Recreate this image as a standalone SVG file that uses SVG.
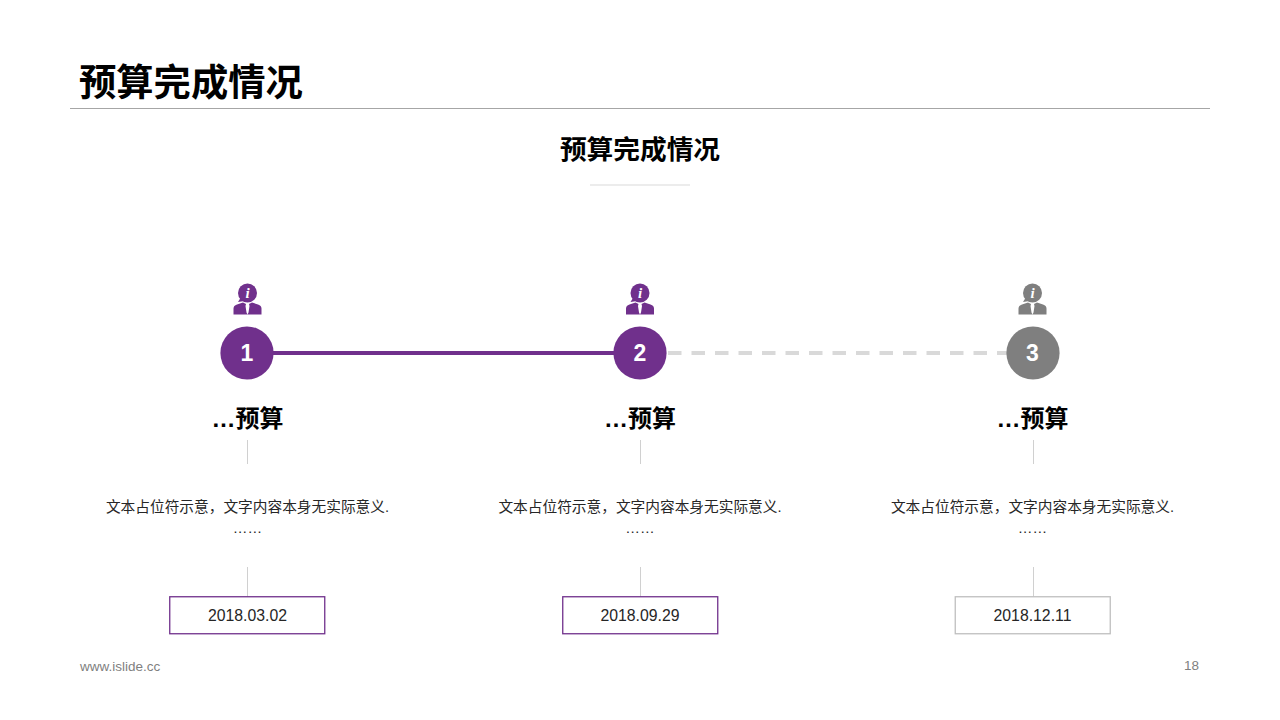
<svg xmlns="http://www.w3.org/2000/svg" xmlns:xlink="http://www.w3.org/1999/xlink" width="1280" height="720" viewBox="0 0 1280 720">
<style>
text{font-family:"Liberation Sans","Noto Sans CJK SC",sans-serif;text-anchor:middle}
.title{font-size:37.300px;font-weight:700;fill:#000;text-anchor:start}
.sub{font-size:26.700px;font-weight:700;fill:#000}
.head{font-size:24px;font-weight:700;fill:#000}
.num{font-size:23px;font-weight:700;fill:#fff}
.body{font-size:14.700px;fill:#262626}
.date{font-size:15.800px;fill:#262626}
.foot{font-size:13.500px;fill:#7f7f7f}
.v{stroke:#d0d0d0;stroke-width:1;fill:none}
.box{fill:#fff;stroke-width:1.300}
.iw{font-family:"Liberation Serif",serif;font-size:15px;font-weight:700;font-style:italic;fill:#fff}
</style>
<defs>
<g id="person">
<circle cx="0" cy="0" r="9.500"/>
<path d="M-7 5 L-9.500 9 L-3 8 Z"/>
<path d="M-14 21.500 L-14 15.500 Q-14 12.500 -10.500 11.500 L-4.500 9.500 L-1.500 11 L-2 13 L-1 19.500 L0 21.500 L1 19.500 L2 13 L1.500 11 L4.500 9.500 L10.500 11.500 Q14 12.500 14 15.500 L14 21.500 Z"/>
</g>
</defs>
<rect width="1280" height="720" fill="#fff"/>
<g id="header">
<text class="title" x="79" y="96">预算完成情况</text>
<line x1="70" y1="108.500" x2="1210" y2="108.500" stroke="#a6a6a6" stroke-width="1"/>
<text class="sub" x="640" y="158.500">预算完成情况</text>
<line x1="590" y1="185" x2="690" y2="185" stroke="#d9d9d9" stroke-width="1"/>
</g>
<g id="connectors">
<line x1="247" y1="353" x2="640" y2="353" stroke="#70308c" stroke-width="4"/>
<line x1="668" y1="353" x2="1033" y2="353" stroke="#d9d9d9" stroke-width="4" stroke-dasharray="13.500 10"/>
<line class="v" x1="247.500" y1="440" x2="247.500" y2="464"/>
<line class="v" x1="640.500" y1="440" x2="640.500" y2="464"/>
<line class="v" x1="1033.500" y1="440" x2="1033.500" y2="464"/>
<line class="v" x1="247.500" y1="567" x2="247.500" y2="597"/>
<line class="v" x1="640.500" y1="567" x2="640.500" y2="597"/>
<line class="v" x1="1033.500" y1="567" x2="1033.500" y2="597"/>
</g>
<g id="node1">
<use xlink:href="#person" href="#person" transform="translate(247.500 293)" fill="#70308c"/>
<text class="iw" x="247.500" y="298">i</text>
<circle cx="247" cy="353" r="26.600" fill="#70308c"/>
<text class="num" x="247" y="361">1</text>
<text class="head" x="247.500" y="427">…预算</text>
<text class="body" x="247.500" y="512">文本占位符示意，文字内容本身无实际意义.</text>
<text class="body" x="247.500" y="533">……</text>
<rect class="box" x="169.750" y="596.750" width="155" height="37" stroke="#70308c"/>
<text class="date" x="247.500" y="621">2018.03.02</text>
</g>
<g id="node2">
<use xlink:href="#person" href="#person" transform="translate(640 293)" fill="#70308c"/>
<text class="iw" x="640" y="298">i</text>
<circle cx="640" cy="353" r="26.600" fill="#70308c"/>
<text class="num" x="640" y="361">2</text>
<text class="head" x="640" y="427">…预算</text>
<text class="body" x="640" y="512">文本占位符示意，文字内容本身无实际意义.</text>
<text class="body" x="640" y="533">……</text>
<rect class="box" x="562.750" y="596.750" width="155" height="37" stroke="#70308c"/>
<text class="date" x="640" y="621">2018.09.29</text>
</g>
<g id="node3">
<use xlink:href="#person" href="#person" transform="translate(1032.500 293)" fill="#7f7f7f"/>
<text class="iw" x="1032.500" y="298">i</text>
<circle cx="1033" cy="353" r="26.600" fill="#7f7f7f"/>
<text class="num" x="1032.500" y="361">3</text>
<text class="head" x="1032.500" y="427">…预算</text>
<text class="body" x="1032.500" y="512">文本占位符示意，文字内容本身无实际意义.</text>
<text class="body" x="1032.500" y="533">……</text>
<rect class="box" x="955.250" y="596.750" width="155" height="37" stroke="#bfbfbf"/>
<text class="date" x="1032.500" y="621">2018.12.11</text>
</g>
<g id="footer">
<text class="foot" x="80" y="670.500" style="text-anchor:start">www.islide.cc</text>
<text class="foot" x="1199" y="670" style="text-anchor:end">18</text>
</g>
</svg>
